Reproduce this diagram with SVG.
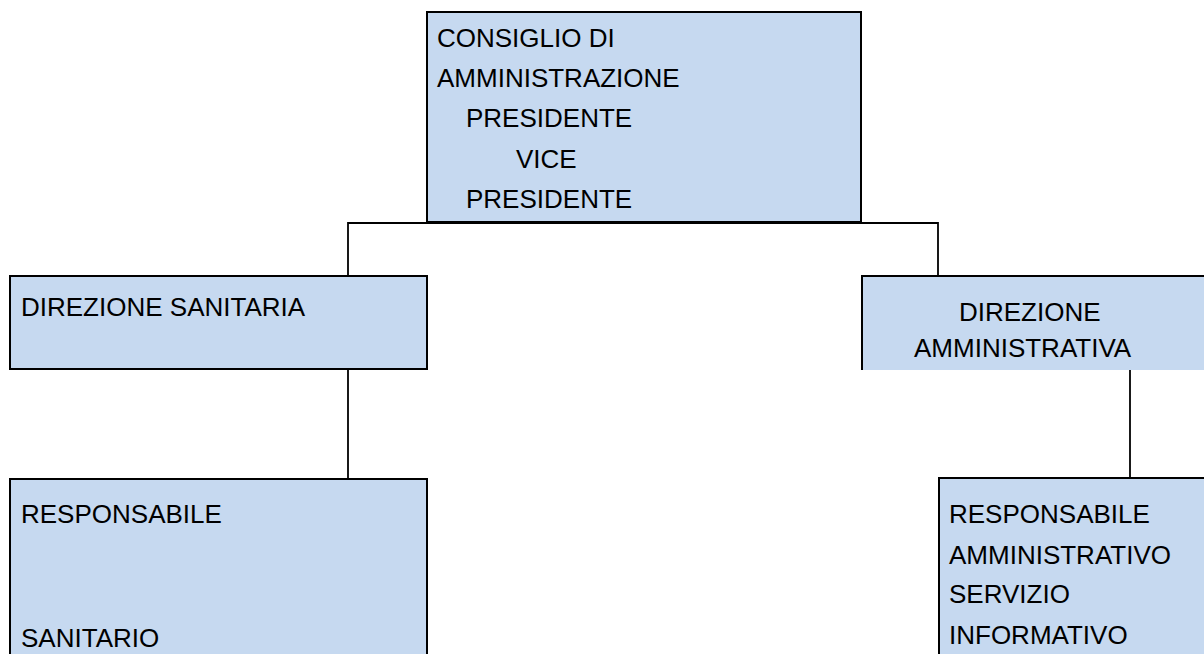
<svg xmlns="http://www.w3.org/2000/svg" width="1204" height="654" viewBox="0 0 1204 654">
<style>
.box{fill:#c6d9f0;stroke:#000;stroke-width:2}
.fill{fill:#c6d9f0}
.edge{fill:none;stroke:#000;stroke-width:2}
.conn{fill:none;stroke:#000;stroke-width:1.8}
text{font-family:"Liberation Sans",Arial,sans-serif;font-size:26px;fill:#000}
</style>
<rect width="1204" height="654" fill="#fff"/>
<g id="connectors">
<path class="conn" d="M348,277 V223 H938 V277"/>
<path class="conn" d="M348,369 V479"/>
<path class="conn" d="M1130,370 V478"/>
</g>
<g id="consiglio">
<rect class="box" x="427" y="12" width="434" height="210"/>
<text x="437" y="47">CONSIGLIO DI</text>
<text x="437" y="87">AMMINISTRAZIONE</text>
<text x="466" y="127">PRESIDENTE</text>
<text x="516" y="168">VICE</text>
<text x="466" y="208">PRESIDENTE</text>
</g>
<g id="direzione-sanitaria">
<rect class="box" x="10" y="276" width="417" height="93"/>
<text x="21" y="316">DIREZIONE SANITARIA</text>
</g>
<g id="direzione-amministrativa">
<rect class="fill" x="862" y="276" width="342" height="94"/>
<path class="edge" d="M862,370 V276 H1204"/>
<text x="959" y="321">DIREZIONE</text>
<text x="914" y="357">AMMINISTRATIVA</text>
</g>
<g id="responsabile-sanitario">
<rect class="fill" x="10" y="479" width="417" height="175"/>
<path class="edge" d="M10,654 V479 H427 V654"/>
<text x="21" y="523">RESPONSABILE</text>
<text x="21" y="647">SANITARIO</text>
</g>
<g id="responsabile-amministrativo">
<rect class="fill" x="939" y="478" width="265" height="176"/>
<path class="edge" d="M939,654 V478 H1204"/>
<text x="949" y="523">RESPONSABILE</text>
<text x="949" y="564">AMMINISTRATIVO</text>
<text x="949" y="603">SERVIZIO</text>
<text x="949" y="644">INFORMATIVO</text>
</g>
</svg>
